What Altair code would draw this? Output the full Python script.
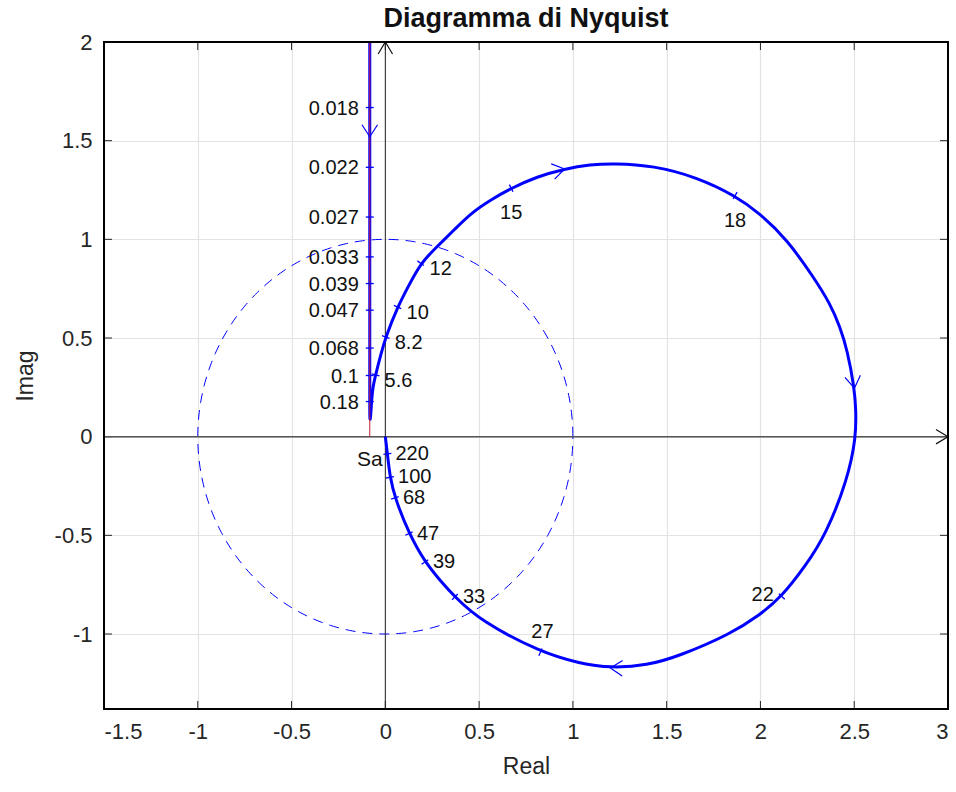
import math
import numpy as np
import pandas as pd
import altair as alt

# ---- Nyquist locus of the open-loop response, in order of increasing frequency ----
curve_re = [-0.083, -0.083, -0.083, -0.083, -0.083, -0.083, -0.083, -0.083, -0.083, -0.083,
            -0.083, -0.083, -0.078, -0.073, -0.066, -0.052, -0.025, 0.002, 0.065, 0.126,
            0.188, 0.277, 0.364, 0.454, 0.561, 0.671, 0.809, 0.956, 1.093, 1.216,
            1.430, 1.661, 1.865, 1.998, 2.141, 2.282, 2.371, 2.424, 2.463, 2.501,
            2.509, 2.510, 2.465, 2.347, 2.240, 2.114, 1.995, 1.840, 1.572, 1.395,
            1.200, 1.040, 0.827, 0.507, 0.371, 0.294, 0.211, 0.126, 0.051, 0.025,
            0.011, 0.000]
curve_im = [2.050, 1.668, 1.520, 1.365, 1.113, 0.911, 0.776, 0.641, 0.449, 0.310,
            0.178, 0.070, 0.103, 0.187, 0.254, 0.313, 0.414, 0.505, 0.657, 0.768,
            0.879, 0.965, 1.045, 1.131, 1.200, 1.259, 1.318, 1.357, 1.379, 1.385,
            1.374, 1.315, 1.222, 1.130, 1.000, 0.810, 0.675, 0.557, 0.439, 0.246,
            0.136, 0.000, -0.217, -0.500, -0.655, -0.810, -0.905, -1.000, -1.110, -1.160,
            -1.172, -1.150, -1.092, -0.933, -0.812, -0.731, -0.635, -0.491, -0.310, -0.206,
            -0.087, 0.000]

# ---- frequencies (rad/s) marked on the locus ----
freq_text = ["0.018", "0.022", "0.027", "0.033", "0.039", "0.047", "0.068", "0.1", "0.18",
             "5.6", "8.2", "10", "12", "15", "18", "22", "27",
             "33", "39", "47", "68", "100", "220"]
freq_re = [-0.083, -0.083, -0.083, -0.083, -0.083, -0.083, -0.083, -0.083, -0.083,
           -0.052, 0.002, 0.065, 0.188, 0.671, 1.865, 2.114, 0.827,
           0.371, 0.211, 0.126, 0.051, 0.025, 0.011]
freq_im = [1.668, 1.365, 1.113, 0.911, 0.776, 0.641, 0.449, 0.310, 0.178,
           0.313, 0.505, 0.657, 0.879, 1.259, 1.222, -0.810, -1.092,
           -0.812, -0.635, -0.491, -0.310, -0.206, -0.087]
# which side of its tick each frequency label sits on
freq_side = ["left"] * 9 + ["right_up"] * 4 + ["below", "below", "west", "above"] + ["right_low"] * 6

# ---- direction arrows along the locus ----
arrow_re = [-0.083, 0.956, 2.501, 1.200]
arrow_im = [1.520, 1.357, 0.246, -1.172]

# ---- asymptote of the low-frequency branch ----
asym_re = -0.083
asym_label = "Sa"

X_DOM = [-1.5, 3.0]
Y_DOM = [-1.38, 2.0]
x_ticks = [-1.5, -1, -0.5, 0, 0.5, 1, 1.5, 2, 2.5, 3]
y_ticks = [-1, -0.5, 0, 0.5, 1, 1.5, 2]

W, H = 844, 667
SX = W / (X_DOM[1] - X_DOM[0])
SY = H / (Y_DOM[1] - Y_DOM[0])

FONT = "Liberation Sans"
BLUE = "#0000ff"

pts = np.column_stack([curve_re, curve_im])


def screen_angle(x, y):
    """Direction of travel of the locus at (x, y), in screen degrees (clockwise)."""
    j = int(np.argmin((pts[:, 0] - x) ** 2 + (pts[:, 1] - y) ** 2))
    a = pts[max(j - 1, 0)]
    b = pts[min(j + 1, len(pts) - 1)]
    return math.degrees(math.atan2(-(b[1] - a[1]) * SY, (b[0] - a[0]) * SX)) % 360


curve_df = pd.DataFrame({"i": range(len(curve_re)), "re": curve_re, "im": curve_im})
freq_df = pd.DataFrame({"re": freq_re, "im": freq_im, "txt": freq_text, "side": freq_side})
freq_df["ang"] = [(screen_angle(x, y) + 90) % 360 for x, y in zip(freq_re, freq_im)]
arrow_df = pd.DataFrame({"re": arrow_re, "im": arrow_im})
arrow_df["ang"] = [screen_angle(x, y) for x, y in zip(arrow_re, arrow_im)]

# unit circle (M-circle of unit magnitude)
t = np.linspace(0, 2 * np.pi, 361)
circle_df = pd.DataFrame({"i": range(len(t)), "re": np.cos(t), "im": np.sin(t)})

x_axis = alt.Axis(values=x_ticks, grid=True, ticks=False, domain=False,
                  labelExpr="toString(datum.value)", labelFont=FONT, labelFontSize=22,
                  labelColor="#262626", labelPadding=12, title="Real", titleFont=FONT,
                  titleFontSize=23, titleFontWeight="normal", titleColor="#262626",
                  titleBaseline="alphabetic", titleY=64,
                  gridColor="#e3e3e3", gridWidth=1.2)
y_axis = alt.Axis(values=y_ticks, grid=True, ticks=False, domain=False,
                  labelExpr="toString(datum.value)", labelFont=FONT, labelFontSize=22,
                  labelColor="#262626", labelPadding=12, title="Imag", titleFont=FONT,
                  titleFontSize=23, titleFontWeight="normal", titleColor="#262626",
                  titleBaseline="alphabetic", titleX=-72, titleAngle=270,
                  gridColor="#e3e3e3", gridWidth=1.2)


def X(field):
    return alt.X(field, type="quantitative",
                 scale=alt.Scale(domain=X_DOM, nice=False, zero=False), axis=x_axis)


def Y(field):
    return alt.Y(field, type="quantitative",
                 scale=alt.Scale(domain=Y_DOM, nice=False, zero=False), axis=y_axis)


# inward tick marks on all four sides of the box
xt_df = pd.DataFrame({"v": x_ticks[1:-1], "z": 0.0})
yt_df = pd.DataFrame({"v": y_ticks[:-1], "z": 0.0})
tick_col = "#262626"
ticks_bottom = alt.Chart(xt_df).mark_rule(color=tick_col, strokeWidth=1).encode(
    x=X("v"), y=alt.value(H), y2=alt.value(H - 8))
ticks_top = alt.Chart(xt_df).mark_rule(color=tick_col, strokeWidth=1).encode(
    x=X("v"), y=alt.value(0), y2=alt.value(8))
ticks_left = alt.Chart(yt_df).mark_rule(color=tick_col, strokeWidth=1).encode(
    y=Y("v"), x=alt.value(0), x2=alt.value(8))
ticks_right = alt.Chart(yt_df).mark_rule(color=tick_col, strokeWidth=1).encode(
    y=Y("v"), x=alt.value(W), x2=alt.value(W - 8))

# dashed unit circle
circle = alt.Chart(circle_df).mark_line(color=BLUE, strokeWidth=1, strokeDash=[10, 7]).encode(
    x=X("re"), y=Y("im"), order="i:Q")

# real and imaginary axes through the origin, with arrowheads
origin_df = pd.DataFrame({"z": [0.0]})
real_axis = alt.Chart(origin_df).mark_rule(color="#555555", strokeWidth=1.5).encode(y=Y("z"))
imag_axis = alt.Chart(origin_df).mark_rule(color="#222222", strokeWidth=1).encode(x=X("z"))
axis_arrow_df = pd.DataFrame({"re": [X_DOM[1], 0.0], "im": [0.0, Y_DOM[1]], "ang": [0, 270]})
axis_arrows = alt.Chart(axis_arrow_df).mark_point(
    shape="M-1,-0.6L0,0L-1,0.6", filled=False, color="#111111", strokeWidth=1.2,
    size=576, opacity=1).encode(x=X("re"), y=Y("im"), angle=alt.Angle("ang:Q", scale=None))

# the locus
locus = alt.Chart(curve_df).mark_line(color=BLUE, strokeWidth=3, interpolate="basis",
                                      clip=True).encode(x=X("re"), y=Y("im"), order="i:Q")

# asymptote
asym_df = pd.DataFrame({"re": [asym_re], "lo": [0.0], "hi": [Y_DOM[1]]})
asym = alt.Chart(asym_df).mark_rule(color="#c0203a", strokeWidth=1).encode(
    x=X("re"), y=Y("lo"), y2="hi")

# frequency ticks across the locus
freq_ticks = alt.Chart(freq_df).mark_point(shape="stroke", color=BLUE, strokeWidth=1.3,
                                           size=64, opacity=1).encode(
    x=X("re"), y=Y("im"), angle=alt.Angle("ang:Q", scale=None))

# direction arrows
arrows = alt.Chart(arrow_df).mark_point(shape="M-1,-0.65L0,0L-1,0.65", filled=False,
                                        color=BLUE, strokeWidth=1.2, size=576,
                                        opacity=1).encode(
    x=X("re"), y=Y("im"), angle=alt.Angle("ang:Q", scale=None))


def labels(side, align, dx, dy):
    return alt.Chart(freq_df).transform_filter(alt.datum.side == side).mark_text(
        font=FONT, fontSize=20, color="#111111", align=align, baseline="middle",
        dx=dx, dy=dy).encode(x=X("re"), y=Y("im"), text="txt:N")


lab_left = labels("left", "right", -11, 1)
lab_right_up = labels("right_up", "left", 9, 6)
lab_below = labels("below", "center", 0, 25)
lab_west = labels("west", "right", -8, -2)
lab_above = labels("above", "center", 2, -20)
lab_right_low = labels("right_low", "left", 8, 0)

sa_df = pd.DataFrame({"re": [asym_re], "im": [0.0], "txt": [asym_label]})
sa_text = alt.Chart(sa_df).mark_text(font=FONT, fontSize=21, color="#111111", align="center",
                                     baseline="middle", dy=23).encode(
    x=X("re"), y=Y("im"), text="txt:N")

# black box around the plot area, drawn over the grid
box_df = pd.DataFrame({"z": [0.0]})
box_style = dict(color="black", strokeWidth=2, strokeCap="square")
box_left = alt.Chart(box_df).mark_rule(**box_style).encode(
    x=alt.value(0), y=alt.value(0), y2=alt.value(H))
box_right = alt.Chart(box_df).mark_rule(**box_style).encode(
    x=alt.value(W), y=alt.value(0), y2=alt.value(H))
box_top = alt.Chart(box_df).mark_rule(**box_style).encode(
    y=alt.value(0), x=alt.value(0), x2=alt.value(W))
box_bottom = alt.Chart(box_df).mark_rule(**box_style).encode(
    y=alt.value(H), x=alt.value(0), x2=alt.value(W))

chart = alt.layer(
    ticks_bottom, ticks_top, ticks_left, ticks_right,
    circle, real_axis, imag_axis, axis_arrows,
    locus, asym, freq_ticks, arrows,
    lab_left, lab_right_up, lab_below, lab_west, lab_above, lab_right_low, sa_text,
    box_left, box_right, box_top, box_bottom,
).properties(
    width=W, height=H,
    title=alt.TitleParams("Diagramma di Nyquist", font=FONT, fontSize=27, fontWeight="bold",
                          color="#111111", anchor="middle", offset=14, dy=16),
    autosize=alt.AutoSizeParams(type="none"),
    padding={"left": 104, "top": 42, "right": 8, "bottom": 83},
).configure_view(stroke=None).configure(background="white")

chart.save("out.html", embed_options={"renderer": "svg", "actions": False})
